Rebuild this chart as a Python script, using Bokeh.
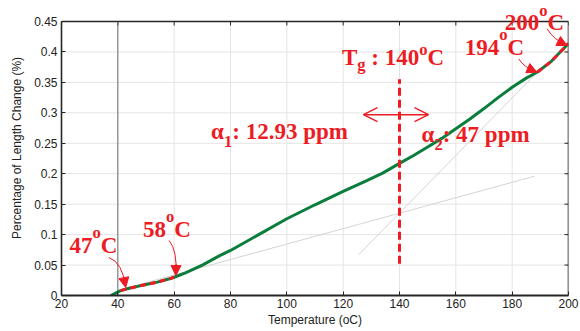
import numpy as np
from bokeh.plotting import figure
from bokeh.models import (Arrow, NormalHead, OpenHead, Label, Range1d,
                          FixedTicker, CustomJSTickFormatter)
from bokeh.embed import file_html
from bokeh.resources import INLINE

# ---------------- data ----------------
temperature = [37.5, 41, 44, 47, 50, 54, 58, 60, 64, 70, 76, 80, 90, 100, 110, 120,
               128, 134, 140, 145, 150, 155, 160, 165, 170, 175, 180, 185, 189, 194, 200]
length_change = [0.0, 0.008, 0.012, 0.015, 0.018, 0.022, 0.027, 0.030, 0.037, 0.050,
                 0.065, 0.074, 0.100, 0.126, 0.149, 0.171, 0.188, 0.201, 0.217, 0.230,
                 0.244, 0.258, 0.274, 0.290, 0.307, 0.325, 0.342, 0.357, 0.367, 0.385, 0.414]

highlight_ranges = [(41, 60), (189, 200)]          # red dashed fit regions
tangent1_x = [44, 188]
tangent1_y = [0.0135, 0.196]
tangent2_x = [125.5, 189]
tangent2_y = [0.067, 0.367]
tg_value = 140
tg_line_y = [0.052, 0.355]
ref_line_x = 40

x_ticks = [20, 40, 60, 80, 100, 120, 140, 160, 180, 200]
x_tick_labels = ["20", "40", "60", "80", "100", "120", "140", "160", "180", "200"]
y_ticks = [0, 0.05, 0.1, 0.15, 0.2, 0.25, 0.3, 0.35, 0.4, 0.45]
y_tick_labels = ["0", "0.05", "0.1", "0.15", "0.2", "0.25", "0.3", "0.35", "0.4", "0.45"]

point_labels = ["47", "58", "194", "200"]
tg_text = "140"
alpha1_text = "12.93 ppm"
alpha2_text = "47 ppm"

# ---------------- style ----------------
RED = "#ed1c24"
GREEN = "#0b7d3c"
AX = "#262626"
GRID = "#e4e4e4"
SERIF = "Liberation Serif"
SANS = "Liberation Sans"
FS = 23
NB = "\u00a0"
TEXT_DY = 8

W, H = 580, 331
BL, BR, BT, BB = 61, 12, 0, 36
AXIS_TOP_PX = 21                      # pixel row of the 0.45 frame edge
X0, X1, Y0, Y1 = 20, 200, 0, 0.45
frame_h = H - BT - BB
px_per_y = (H - BB - AXIS_TOP_PX) / (Y1 - Y0)
Y_VIEW = Y0 + frame_h / px_per_y      # visible range extends a little above 0.45

p = figure(width=W, height=H, x_range=Range1d(X0, X1), y_range=Range1d(Y0, Y_VIEW),
           output_backend="svg", toolbar_location=None,
           min_border_left=BL, min_border_right=BR, min_border_top=BT, min_border_bottom=BB,
           x_axis_label="Temperature (oC)", y_axis_label="Percentage of Length Change (%)")
p.outline_line_color = None
p.background_fill_color = "white"
p.xgrid.visible = False
p.ygrid.visible = False


def fmt(tick_vals, labels):
    return CustomJSTickFormatter(args=dict(tvals=tick_vals, tlabels=labels), code="""
        for (let i = 0; i < tvals.length; i++) {
            if (Math.abs(tvals[i] - tick) < 1e-9) return tlabels[i];
        }
        return '';""")


p.xaxis.ticker = FixedTicker(ticks=x_ticks)
p.yaxis.ticker = FixedTicker(ticks=y_ticks)
p.xaxis.formatter = fmt(x_ticks, x_tick_labels)
p.yaxis.formatter = fmt(y_ticks, y_tick_labels)
p.yaxis.bounds = (Y0, Y1)

for ax in list(p.xaxis) + list(p.yaxis):
    ax.major_tick_in = 4
    ax.major_tick_out = 0
    ax.minor_tick_line_color = None
    ax.axis_line_color = AX
    ax.axis_line_width = 1.6
    ax.major_tick_line_color = AX
    ax.major_label_text_font = SANS
    ax.major_label_text_font_size = "12px"
    ax.major_label_text_color = "#222222"
    ax.axis_label_text_font = SANS
    ax.axis_label_text_font_size = "12px"
    ax.axis_label_text_font_style = "normal"
    ax.axis_label_text_color = "#222222"
p.xaxis.axis_line_width = 2
p.xaxis.major_label_standoff = 3
p.xaxis.axis_label_standoff = 2
p.yaxis.major_label_standoff = 4
p.yaxis.axis_label_standoff = 7

# grid lines limited to the 0..0.45 box
p.segment(x0=x_ticks[1:-1], y0=[Y0] * (len(x_ticks) - 2), x1=x_ticks[1:-1], y1=[Y1] * (len(x_ticks) - 2),
          line_color=GRID, line_width=1)
p.segment(x0=[X0] * (len(y_ticks) - 2), y0=y_ticks[1:-1], x1=[X1] * (len(y_ticks) - 2), y1=y_ticks[1:-1],
          line_color=GRID, line_width=1)

# top and right frame edges with inward ticks
p.line([X0, X1], [Y1, Y1], line_color=AX, line_width=1.4)
p.line([X1, X1], [Y0, Y1], line_color=AX, line_width=1.6)
tick_px = 4
dx = tick_px * (X1 - X0) / (W - BL - BR)
dy = tick_px / px_per_y
p.segment(x0=x_ticks, y0=[Y1] * len(x_ticks), x1=x_ticks, y1=[Y1 - dy] * len(x_ticks),
          line_color=AX, line_width=1)
p.segment(x0=[X1] * len(y_ticks), y0=y_ticks, x1=[X1 - dx] * len(y_ticks), y1=y_ticks,
          line_color=AX, line_width=1)

# ---------------- glyphs ----------------
p.line([ref_line_x, ref_line_x], [Y0, Y1], line_color="#6e6e6e", line_width=1)
p.line(tangent1_x, tangent1_y, line_color="#d4d4d4", line_width=1)
p.line(tangent2_x, tangent2_y, line_color="#d4d4d4", line_width=1)
p.line(temperature, length_change, line_color=GREEN, line_width=3)

t_arr = np.array(temperature)
l_arr = np.array(length_change)
for lo, hi in highlight_ranges:
    m = (t_arr >= lo) & (t_arr <= hi)
    p.line(t_arr[m], l_arr[m], line_color=RED, line_width=3, line_dash="6 4")

p.line([tg_value, tg_value], tg_line_y, line_color=RED, line_width=3, line_dash="8 4")

# double headed arrow around Tg
p.add_layout(Arrow(start=OpenHead(size=14, line_color=RED, line_width=1.5),
                   end=OpenHead(size=14, line_color=RED, line_width=1.5),
                   x_start=127.2, y_start=0.297, x_end=150.3, y_end=0.297,
                   line_color=RED, line_width=1.5))

# ---------------- rich text labels ----------------
CW = {"T": 0.667, "C": 0.722, "g": 0.5, "o": 0.5, "p": 0.556, "m": 0.833, ":": 0.333,
      " ": 0.25, NB: 0.25, ".": 0.25, "α": 0.56}


def rich(cx, y, parts):
    items, total = [], 0.0
    for text, scale, ddy in parts:
        fs = FS * scale
        w = sum(CW.get(ch, 0.5) for ch in text) * fs
        items.append((text, fs, ddy, w))
        total += w
    off = -total / 2
    for text, fs, ddy, w in items:
        p.add_layout(Label(x=cx, y=y, x_offset=off, y_offset=ddy + TEXT_DY, text=text,
                           text_font=SERIF, text_font_style="bold",
                           text_font_size=f"{fs:.1f}px", text_color=RED,
                           text_align="left", text_baseline="alphabetic"))
        off += w


rich(137.7, 0.378, [("T", 1, 0), ("g", 0.72, -7), (NB + ":" + NB + tg_text, 1, 0),
                    ("o", 0.72, 8), ("C", 1, 0)])
rich(97.4, 0.256, [("α", 1, 0), ("1", 0.72, -10), (":" + NB + alpha1_text, 1, 0)])
rich(167.0, 0.252, [("α", 1, 0), ("2", 0.72, -10), (":" + NB + alpha2_text, 1, 0)])

label_pos = [(31.3, 0.069), (57.4, 0.095), (173.7, 0.394), (187.9, 0.436)]
sup_dy = [13, 13, 13, 12]
for txt, (cx, y), sdy in zip(point_labels, label_pos, sup_dy):
    rich(cx, y, [(txt, 1, 0), ("o", 0.72, sdy), ("C", 1, 0)])

# curved pointer arrows: (start, control, tip)
pointers = [((36.8, 0.0624), (41.7, 0.0547), (42.8, 0.0131)),
            ((58.2, 0.0903), (61.2, 0.0739), (60.6, 0.0328)),
            ((182.3, 0.3887), (184.1, 0.3749), (188.8, 0.3667)),
            ((192.4, 0.4380), (194.7, 0.4200), (199.5, 0.4105))]
for (x0, y0), (cx_, cy_), (x1, y1) in pointers:
    p.quadratic(x0=[x0], y0=[y0], x1=[x1], y1=[y1], cx=[cx_], cy=[cy_],
                line_color=RED, line_width=1)
    t = 0.75
    bx = (1 - t) ** 2 * x0 + 2 * (1 - t) * t * cx_ + t ** 2 * x1
    by = (1 - t) ** 2 * y0 + 2 * (1 - t) * t * cy_ + t ** 2 * y1
    p.add_layout(Arrow(end=NormalHead(size=10, fill_color=RED, line_color=RED, line_width=1),
                       x_start=bx, y_start=by, x_end=x1, y_end=y1,
                       line_color=RED, line_width=1))

open("out.html", "w").write(file_html(p, INLINE))
